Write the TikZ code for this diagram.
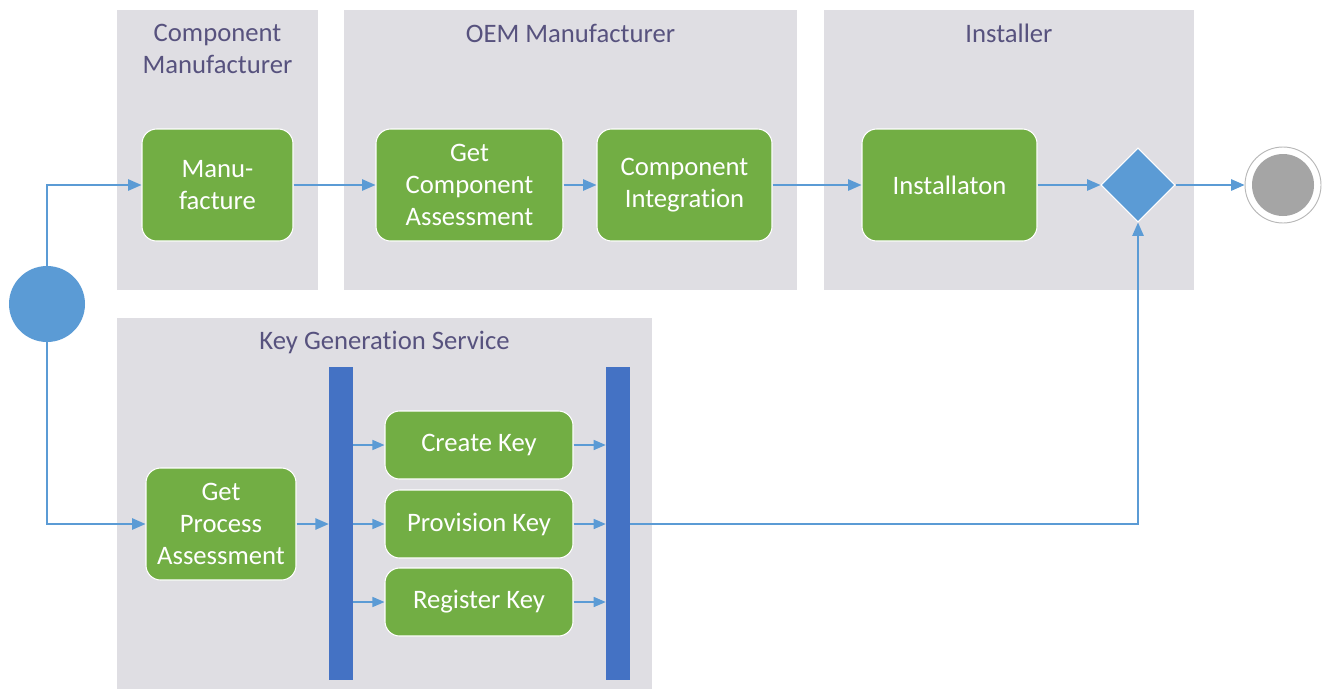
\documentclass[tikz,border=0pt]{standalone}
\usepackage{fontspec}
\setmainfont{Carlito}[Ligatures=NoCommon]
\usetikzlibrary{shapes.geometric,arrows.meta}
\definecolor{lanegray}{HTML}{DFDEE3}
\definecolor{actgreen}{HTML}{72AE44}
\definecolor{flowblue}{HTML}{5B9BD5}
\definecolor{barblue}{HTML}{4472C4}
\definecolor{lanetext}{HTML}{57527E}
\definecolor{endgray}{HTML}{A5A5A5}
\tikzset{
  lane/.style={fill=lanegray, draw=none},
  lanelabel/.style={text=lanetext, font=\fontsize{20}{24}\selectfont, align=center, inner sep=0pt},
  act/.style={rectangle, rounded corners=11pt, fill=actgreen, draw=white, line width=0.8pt,
    text=white, font=\fontsize{20}{24}\selectfont, align=center, inner sep=0pt,
    minimum height=84pt},
  keyact/.style={act, minimum width=141pt, minimum height=51pt},
  flow/.style={draw=flowblue, line width=1.1pt, -{Triangle[length=10pt,width=8.5pt]}},
  smallflow/.style={draw=flowblue, line width=1pt, -{Triangle[length=9pt,width=7.5pt]}},
  syncbar/.style={rectangle, fill=barblue, draw=none, inner sep=0pt, minimum width=18pt, minimum height=234.75pt},
}
\begin{document}
\begin{tikzpicture}[x=0.75pt,y=-0.75pt]
\useasboundingbox (0,0) rectangle (1323,689);
% lanes
\path[lane] (117,10) rectangle (318,290);
\path[lane] (344,10) rectangle (797,290);
\path[lane] (824,10) rectangle (1194,290);
\path[lane] (117,318) rectangle (652,689);
\node[lanelabel] (lcm) at (217.5,49) {Component\\Manufacturer};
\node[lanelabel] (loem) at (570.5,33) {OEM Manufacturer};
\node[lanelabel] (linst) at (1009,33) {Installer};
\node[lanelabel] (lkgs) at (384.5,342) {Key Generation Service};
% start
\node[circle, fill=flowblue, draw=none, minimum size=57pt, inner sep=0pt] (start) at (47,304) {};
% activities
\node[act, minimum width=113.25pt] (manu) at (217.5,185) {Manu-\\facture};
\node[act, minimum width=140.25pt] (gca) at (469.5,185) {Get\\Component\\Assessment};
\node[act, minimum width=131.25pt] (ci) at (684.5,185) {Component\\Integration};
\node[act, minimum width=131.25pt] (inst) at (949.5,185) {Installaton};
\node[diamond, aspect=1, fill=flowblue, draw=white, line width=0.8pt, minimum size=55.5pt, inner sep=0pt] (dec) at (1138,185) {};
\node[circle, fill=white, draw=endgray!80, line width=0.7pt, minimum size=57pt, inner sep=0pt] (endo) at (1283,185) {};
\node[circle, fill=endgray, draw=none, minimum size=46.5pt, inner sep=0pt] (endi) at (1283,185) {};
\node[act, minimum width=112.5pt] (gpa) at (221,524) {Get\\Process\\Assessment};
\node[syncbar] (bar1) at (341,523.5) {};
\node[syncbar] (bar2) at (618,523.5) {};
\node[keyact] (ck) at (479,445) {Create Key};
\node[keyact] (pk) at (479,524) {Provision Key};
\node[keyact] (rk) at (479,602) {Register Key};
% connectors
\draw[flow] (start.north) |- (manu.west);
\draw[flow] (manu.east) -- (gca.west);
\draw[flow] (gca.east) -- (ci.west);
\draw[flow] (ci.east) -- (inst.west);
\draw[flow] (inst.east) -- (dec.west);
\draw[flow] (dec.east) -- (endo.west);
\draw[flow] (start.south) |- (gpa.west);
\draw[flow] (gpa.east) -- (gpa.east -| bar1.west);
\draw[smallflow] (bar1.east |- ck.west) -- (ck.west);
\draw[smallflow] (bar1.east |- pk.west) -- (pk.west);
\draw[smallflow] (bar1.east |- rk.west) -- (rk.west);
\draw[smallflow] (ck.east) -- (ck.east -| bar2.west);
\draw[smallflow] (pk.east) -- (pk.east -| bar2.west);
\draw[smallflow] (rk.east) -- (rk.east -| bar2.west);
\draw[flow] (bar2.east |- pk.east) -| (dec.south);
\end{tikzpicture}
\end{document}
